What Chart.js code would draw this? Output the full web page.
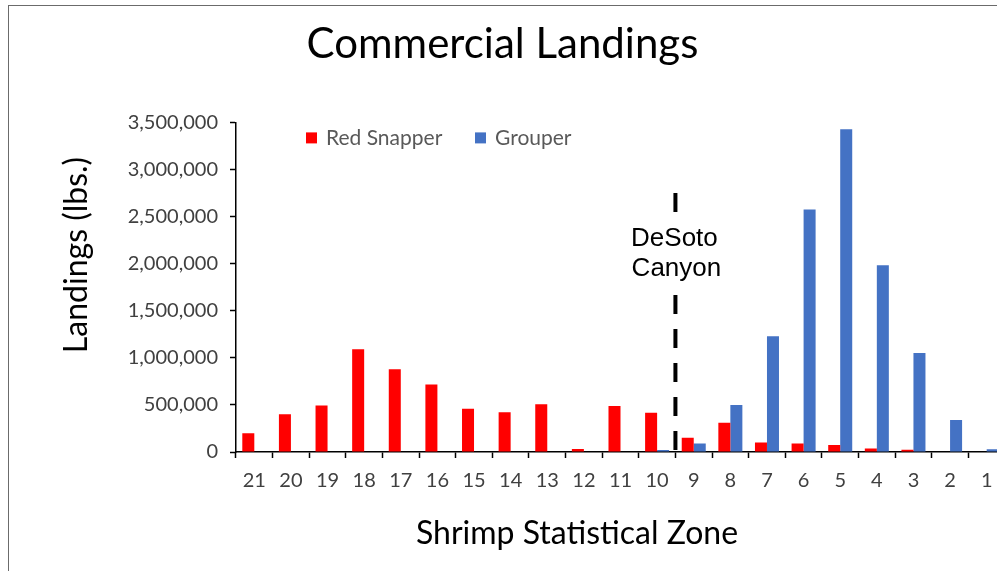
<!DOCTYPE html>
<html>
<head>
<meta charset="utf-8">
<script src="https://cdn.jsdelivr.net/npm/chart.js@4"></script>
<style>
  html, body { margin: 0; padding: 0; background: #fff; overflow: hidden; }
  #cadre { position: absolute; left: 8px; top: 5px; width: 1100px; height: 700px; border: 1.5px solid #6b6b6b; }
  #graphe { position: absolute; left: 0; top: 0; }
</style>
</head>
<body>
<div id="cadre"></div>
<canvas id="graphe" width="1013" height="571"></canvas>
<script>
const zones = ['21', '20', '19', '18', '17', '16', '15', '14', '13', '12', '11', '10', '9', '8', '7', '6', '5', '4', '3', '2', '1'];
const redSnapper = [200000, 400000, 495000, 1090000, 880000, 718000, 459000, 421000, 506000, 32000, 488000, 417000, 150000, 310000, 100000, 90000, 75000, 37000, 25000, 0, 0];
const grouper = [0, 0, 0, 0, 0, 0, 0, 0, 0, 0, 0, 20000, 90000, 500000, 1230000, 2574000, 3426000, 1983000, 1050000, 340000, 30000];

const texteGris = '#404040';

// legende, ligne DeSoto et titres des axes
const decor = {
  id: 'decor',
  afterDatasetsDraw(chart) {
    const ctx = chart.ctx;
    const area = chart.chartArea;
    const x = chart.scales.x;
    const y = chart.scales.y;

    // ligne pointillee entre les zones 10 et 9
    const xLigne = (x.getPixelForValue(11) + x.getPixelForValue(12)) / 2;
    ctx.save();
    ctx.strokeStyle = '#000';
    ctx.lineWidth = 4;
    ctx.setLineDash([19, 15]);
    ctx.beginPath();
    ctx.moveTo(xLigne, y.getPixelForValue(2750000));
    ctx.lineTo(xLigne, y.getPixelForValue(0));
    ctx.stroke();
    ctx.setLineDash([]);
    ctx.fillStyle = '#fff';
    ctx.fillRect(xLigne - 54, area.top + 94, 120, 76);
    ctx.fillStyle = '#000';
    ctx.font = '26px "Liberation Sans", Arial, sans-serif';
    ctx.textAlign = 'center';
    ctx.textBaseline = 'alphabetic';
    ctx.fillText('DeSoto', xLigne - 1, area.top + 124);
    ctx.fillText('Canyon', xLigne + 1, area.top + 154);

    // legende
    ctx.font = '21px Lato, sans-serif';
    ctx.textAlign = 'left';
    ctx.textBaseline = 'middle';
    const entrees = [
      { texte: 'Red Snapper', couleur: '#FF0000', dx: 70 },
      { texte: 'Grouper', couleur: '#4472C4', dx: 239 }
    ];
    entrees.forEach(e => {
      ctx.fillStyle = e.couleur;
      ctx.fillRect(area.left + e.dx, area.top + 10, 11, 11);
      ctx.fillStyle = '#595959';
      ctx.fillText(e.texte, area.left + e.dx + 20, area.top + 16);
    });

    // titres des axes
    ctx.fillStyle = '#000';
    ctx.font = '32px Lato, sans-serif';
    ctx.textAlign = 'center';
    ctx.fillText('Shrimp Statistical Zone', area.left + 341, 534);
    ctx.translate(77, 255);
    ctx.rotate(-Math.PI / 2);
    ctx.fillText('Landings (lbs.)', 0, 0);
    ctx.restore();
  }
};

const ctx = document.getElementById('graphe').getContext('2d');

const graphe = new Chart(ctx, {
  type: 'bar',
  data: {
    labels: zones,
    datasets: [
      {
        label: 'Red Snapper',
        data: redSnapper,
        backgroundColor: '#FF0000',
        categoryPercentage: 0.656,
        barPercentage: 1.0,
      },
      {
        label: 'Grouper',
        data: grouper,
        backgroundColor: '#4472C4',
        categoryPercentage: 0.656,
        barPercentage: 1.0,
      },
    ],
  },
  options: {
    responsive: false,
    animation: false,
    layout: { padding: { left: 0, right: 8, top: 0, bottom: 0 } },
    plugins: {
      legend: { display: false },
      tooltip: { enabled: false },
      title: {
        display: true,
        text: 'Commercial Landings',
        color: '#000',
        font: { family: 'Lato', size: 42, weight: 'normal' },
        padding: { top: 19, bottom: 53 },
      },
    },
    scales: {
      x: {
        afterFit: (scale) => { scale.height = 119; },
        grid: { display: true, drawOnChartArea: false, drawTicks: true, tickLength: 6, tickColor: '#000', tickWidth: 1.5 },
        border: { display: true, color: '#000', width: 1.5 },
        ticks: { color: texteGris, font: { family: 'Lato', size: 20 }, padding: 11, maxRotation: 0, autoSkip: false },
      },
      y: {
        min: 0,
        max: 3500000,
        afterFit: (scale) => { scale.width = 236; },
        grid: { display: true, drawOnChartArea: false, drawTicks: true, tickLength: 6, tickColor: '#000', tickWidth: 1.5 },
        border: { display: true, color: '#000', width: 1.5 },
        ticks: {
          stepSize: 500000,
          color: texteGris,
          font: { family: 'Lato', size: 20 },
          padding: 12,
          callback: (v) => v.toLocaleString('en-US'),
        },
      },
    },
  },
  plugins: [decor],
});
</script>
</body>
</html>
